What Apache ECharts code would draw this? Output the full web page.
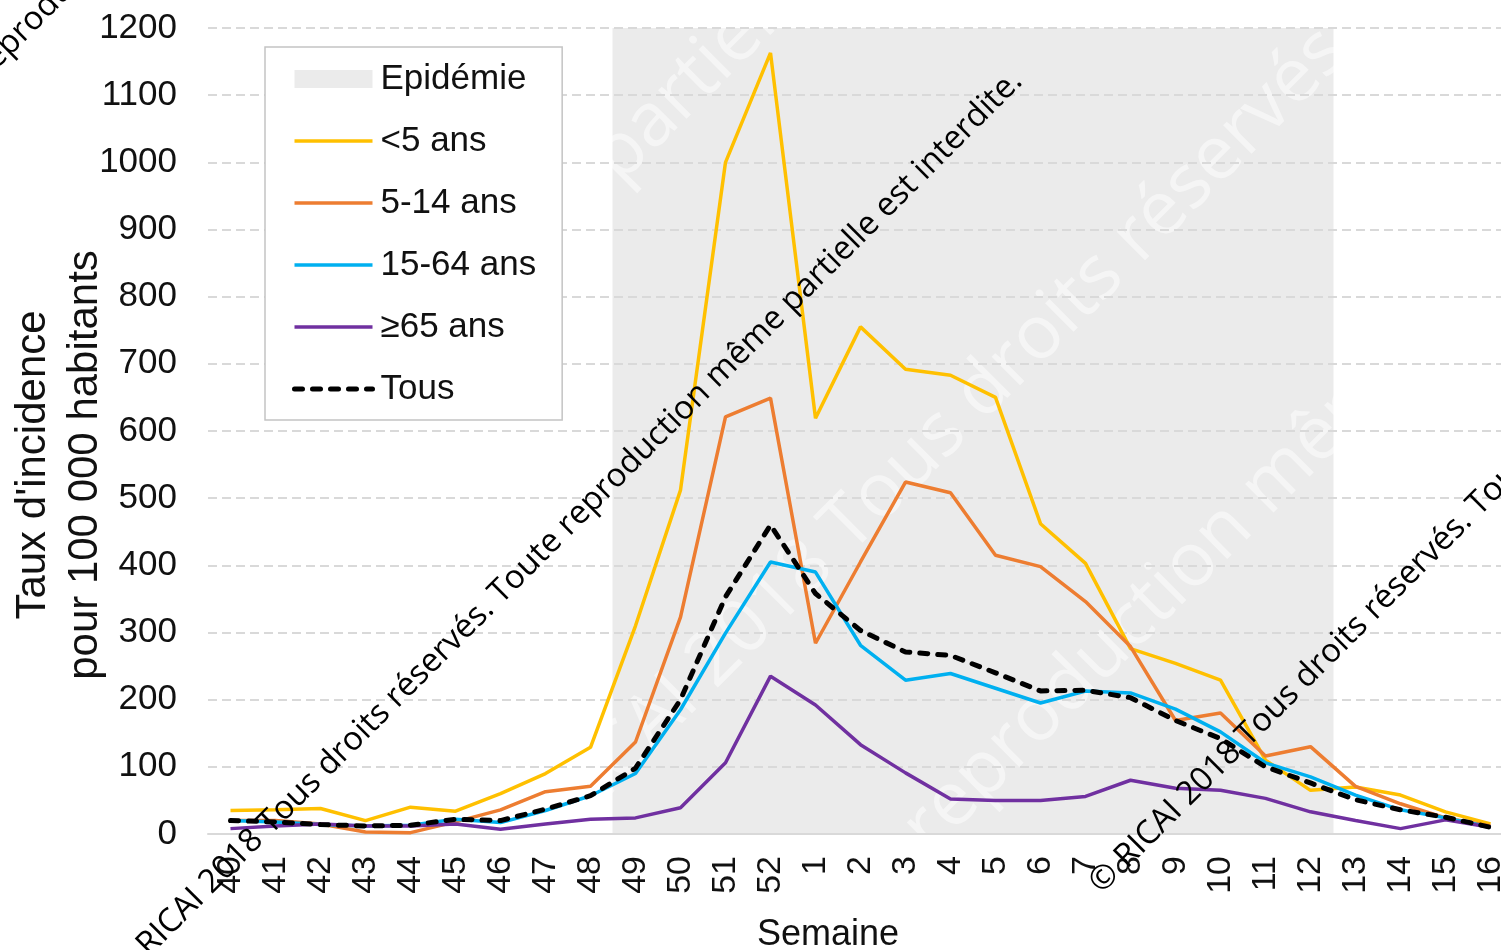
<!DOCTYPE html>
<html>
<head>
<meta charset="utf-8">
<script src="https://cdn.jsdelivr.net/npm/echarts@6/dist/echarts.min.js"></script>
<style>html,body{margin:0;padding:0;background:#fff}#c{width:1501px;height:950px}</style>
</head>
<body>
<div id="c"></div>
<script>
const weeks = ['40','41','42','43','44','45','46','47','48','49','50','51','52','1','2','3','4','5','6','7','8','9','10','11','12','13','14','15','16'];
const epidemie = ['-','-','-','-','-','-','-','-','-',1200,1200,1200,1200,1200,1200,1200,1200,1200,1200,1200,1200,1200,1200,1200,1200,'-','-','-','-'];
const under5   = [35,36,38,20,40,34,60,90,129,310,512,1000,1163,619,755,692,683,650,462,403,276,254,229,110,65,70,58,33,15];
const age5_14  = [20,20,15,3,2,18,36,63,71,137,323,621,649,284,405,524,508,415,398,346,279,169,180,116,130,71,45,24,12];
const age15_64 = [20,18,14,12,13,22,17,35,57,90,185,299,405,390,281,229,239,217,195,213,210,186,152,106,85,58,36,24,10];
const age65    = [8,12,15,12,12,15,7,15,22,24,39,106,235,192,133,91,52,50,50,56,80,68,65,53,33,20,8,21,10];
const tous     = [20,18,14,12,13,22,20,37,57,98,200,353,460,358,303,271,266,240,213,214,203,169,142,100,76,51,36,25,10];
const yTicks = {min: 0, max: 1200, interval: 100};
const watermark = '© RICAI 2018 Tous droits réservés. Toute reproduction même partielle est interdite.';

const chart = echarts.init(document.getElementById('c'), null, {renderer: 'canvas'});
const FONT = '"Liberation Sans", Arial, sans-serif';
const lineSeries = (name, data, color, extra) => Object.assign({
  name, type: 'line', data, symbol: 'none', z: 3,
  lineStyle: {color, width: 3.5}, itemStyle: {color}
}, extra || {});
const dashStyle = {color: '#000', width: 5, type: [8, 10], cap: 'round'};

function wm(x, y, align, text, size, fill, z) {
  return {
    type: 'text', x, y, rotation: Math.PI / 4, silent: true, z: z || 100,
    style: {text: text || watermark, font: (size || 32.8) + 'px "Open Sans", sans-serif', fill: fill || '#000',
            textAlign: align, textVerticalAlign: 'middle'}
  };
}
const FAINT = 'rgba(255,255,255,0.5)';

chart.setOption({
  backgroundColor: '#fff',
  animation: false,
  grid: {left: 208, top: 28, width: 1305, height: 806, containLabel: false, outerBoundsMode: 'none'},
  legend: {
    orient: 'vertical', left: 265, top: 47,
    padding: [14, 26, 13, 27], itemGap: 26, itemWidth: 78, itemHeight: 18,
    backgroundColor: '#fff', borderColor: '#c4c4c4', borderWidth: 1.5,
    textStyle: {fontFamily: FONT, fontSize: 35, color: '#111', lineHeight: 36, padding: [0, 0, 0, 3]},
    data: [
      {name: 'Epidémie', icon: 'rect'},
      {name: '<5 ans', itemStyle: {opacity: 0}, lineStyle: {width: 3.5}},
      {name: '5-14 ans', itemStyle: {opacity: 0}, lineStyle: {width: 3.5}},
      {name: '15-64 ans', itemStyle: {opacity: 0}, lineStyle: {width: 3.5}},
      {name: '≥65 ans', itemStyle: {opacity: 0}, lineStyle: {width: 3.5}},
      {name: 'Tous', itemStyle: {opacity: 0}, lineStyle: dashStyle}
    ]
  },
  xAxis: {
    type: 'category', data: weeks, boundaryGap: true, z: 2,
    name: 'Semaine', nameLocation: 'middle', nameGap: 81, nameMoveOverlap: false,
    nameTextStyle: {fontFamily: FONT, fontSize: 36, color: '#111', lineHeight: 40, padding: [0, 65, 0, 0]},
    axisLine: {lineStyle: {color: '#d9d9d9', width: 2}},
    axisTick: {show: false},
    axisLabel: {rotate: 90, fontFamily: FONT, fontSize: 34, color: '#111', margin: 22, interval: 0},
    splitLine: {show: false}
  },
  yAxis: {
    type: 'value', min: yTicks.min, max: yTicks.max, interval: yTicks.interval, z: 2,
    name: "Taux d'incidence\npour 100 000 habitants", nameLocation: 'middle', nameGap: 97, nameRotate: 90,
    nameMoveOverlap: false,
    nameTextStyle: {fontFamily: FONT, fontSize: 42, color: '#111', lineHeight: 52, padding: [0, 68, 0, 0]},
    axisLine: {show: false}, axisTick: {show: false},
    axisLabel: {fontFamily: FONT, fontSize: 35, color: '#111', margin: 31, formatter: v => String(v)},
    splitLine: {lineStyle: {color: '#d9d9d9', width: 2, type: [9, 5]}}
  },
  series: [
    {name: 'Epidémie', type: 'bar', data: epidemie, barWidth: 46, barGap: '0%', z: -1,
     itemStyle: {color: '#ebebeb'}, emphasis: {disabled: true}},
    lineSeries('<5 ans', under5, '#FFC000'),
    lineSeries('5-14 ans', age5_14, '#ED7D31'),
    lineSeries('15-64 ans', age15_64, '#00B0F0'),
    lineSeries('≥65 ans', age65, '#7030A0'),
    lineSeries('Tous', tous, '#000', {z: 4, lineStyle: dashStyle})
  ],
  graphic: [
    wm(605, 170, 'right', 'Toute reproduction même ', 75, FAINT, 1),
    wm(605, 170, 'left', 'partielle est interdite.', 75, FAINT, 1),
    wm(1335, 40, 'right', '© RICAI 2018 Tous droits réservés', 75, FAINT, 1),
    wm(1254, 502, 'right', 'Toute reproduction ', 75, FAINT, 1),
    wm(1254, 502, 'left', 'même partielle est interdite.', 75, FAINT, 1),
    wm(434, -381, 'right'),
    wm(1017, 76, 'right'),
    wm(1095, 888, 'left')
  ]
});
</script>
</body>
</html>
